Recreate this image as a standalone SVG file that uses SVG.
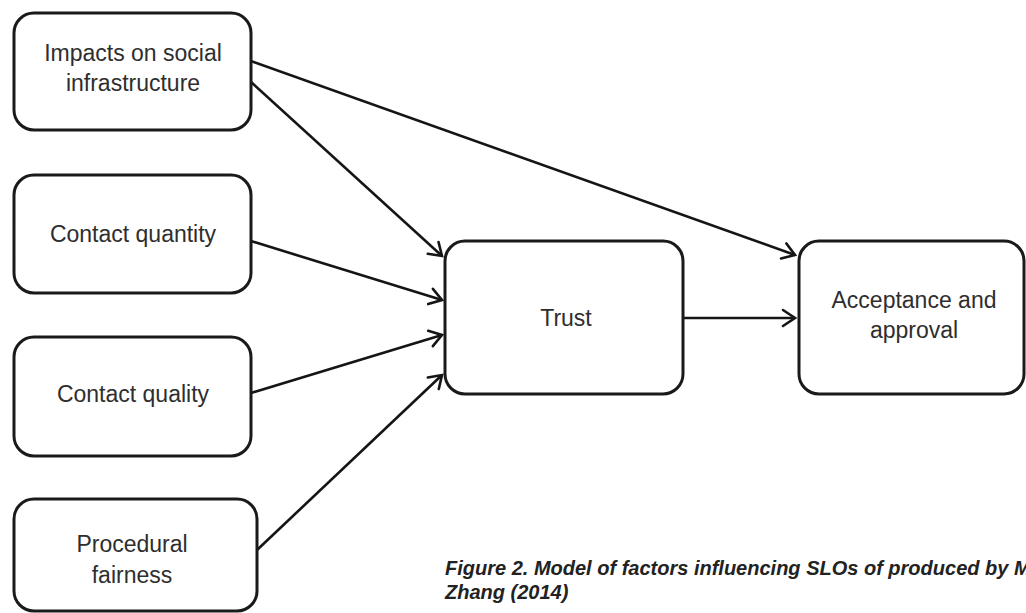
<svg xmlns="http://www.w3.org/2000/svg" width="1026" height="613" viewBox="0 0 1026 613">
  <defs>
    <marker id="arrow" markerUnits="userSpaceOnUse" markerWidth="16" markerHeight="20" refX="12" refY="8" orient="auto" overflow="visible">
      <path d="M0,0 L12,8 L0,16" fill="none" stroke="#151515" stroke-width="2.6" stroke-linejoin="miter" stroke-linecap="round"/>
    </marker>
    <style>
      .box { fill: #ffffff; stroke: #1a1a1a; stroke-width: 3; }
      .label { font-family: "Liberation Sans", Arial, sans-serif; font-size: 23px; fill: #2e2e2e; text-anchor: middle; }
      .edge { stroke: #151515; stroke-width: 2.6; fill: none; marker-end: url(#arrow); }
      .caption { font-family: "Liberation Sans", Arial, sans-serif; font-size: 20px; font-weight: bold; font-style: italic; fill: #222222; }
    </style>
  </defs>

  <rect width="1026" height="613" fill="#ffffff"/>

  <!-- connectors -->
  <g id="connectors">
    <line class="edge" x1="251" y1="61" x2="795" y2="255"/>
    <line class="edge" x1="251" y1="82" x2="442" y2="256"/>
    <line class="edge" x1="251" y1="241" x2="442" y2="300"/>
    <line class="edge" x1="251" y1="393" x2="442" y2="335"/>
    <line class="edge" x1="257" y1="550" x2="442" y2="375"/>
    <line class="edge" x1="683" y1="318" x2="795" y2="318"/>
  </g>

  <!-- factor nodes -->
  <g id="node-impacts">
    <rect class="box" x="14" y="13" width="237" height="117" rx="20"/>
    <text class="label" x="133" y="61">Impacts on social</text>
    <text class="label" x="133" y="91">infrastructure</text>
  </g>
  <g id="node-contact-quantity">
    <rect class="box" x="14" y="175" width="237" height="118" rx="20"/>
    <text class="label" x="133" y="242">Contact quantity</text>
  </g>
  <g id="node-contact-quality">
    <rect class="box" x="14" y="337" width="237" height="119" rx="20"/>
    <text class="label" x="133" y="402">Contact quality</text>
  </g>
  <g id="node-procedural">
    <rect class="box" x="14" y="499" width="243" height="112" rx="20"/>
    <text class="label" x="132" y="552">Procedural</text>
    <text class="label" x="132" y="583">fairness</text>
  </g>

  <!-- outcome nodes -->
  <g id="node-trust">
    <rect class="box" x="445" y="241" width="238" height="153" rx="20"/>
    <text class="label" x="566" y="326">Trust</text>
  </g>
  <g id="node-acceptance">
    <rect class="box" x="799" y="241" width="225" height="153" rx="20"/>
    <text class="label" x="914" y="308">Acceptance and</text>
    <text class="label" x="914" y="338">approval</text>
  </g>

  <!-- caption -->
  <g id="caption">
    <text class="caption" x="445" y="575">Figure 2. Model of factors influencing SLOs of produced by M</text>
    <text class="caption" x="445" y="599">Zhang (2014)</text>
  </g>
</svg>
